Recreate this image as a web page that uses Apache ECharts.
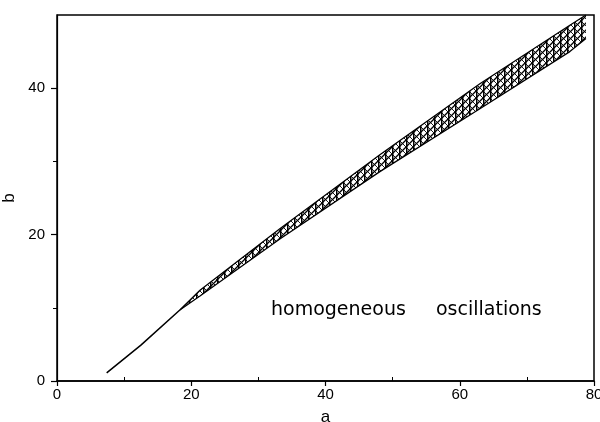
<!DOCTYPE html>
<html>
<head>
<meta charset="utf-8">
<script src="https://cdn.jsdelivr.net/npm/echarts@6/dist/echarts.min.js"></script>
<style>html,body{margin:0;padding:0;background:#fff}#c{width:600px;height:422px}</style>
</head>
<body>
<div id="c"></div>
<script>
// ---- data ----
const aTicks = [0, 20, 40, 60, 80];
const bTicks = [0, 20, 40];
const aMinorTicks = [10, 30, 50, 70];
const bMinorTicks = [10, 30];

// single boundary line below the oscillation band
const aLead = [7.4, 12.5, 18.3];
const bLead = [1.1, 4.9, 9.7];

// oscillation band: upper and lower envelopes
const aBand  = [18.3, 21.3, 33.2, 48.1, 63.0, 76.4, 78.8];
const bUpper = [9.7, 12.4, 20.8, 30.9, 40.6, 48.6, 50.0];
const bLower = [9.7, 11.6, 19.4, 28.6, 37.2, 45.0, 46.8];

const labelWords = ['homogeneous', 'oscillations'];

// ---- chart ----
const zip = (xs, ys) => xs.map((x, i) => [x, ys[i]]);
const FONT = 'Liberation Sans';

// hatch pattern tile (style only)
function makeHatch() {
  const w = 7, h = 7;
  const cv = document.createElement('canvas');
  cv.width = w; cv.height = h;
  const g = cv.getContext('2d');
  g.strokeStyle = '#000';
  g.lineWidth = 1.5;
  g.beginPath();
  g.moveTo(0.75, 0); g.lineTo(0.75, h);        // near vertical bar
  g.stroke();
  g.lineWidth = 1.3;
  g.beginPath();
  g.moveTo(-1, h + 1); g.lineTo(w + 1, -1);    // "/" diagonal
  g.stroke();
  g.lineWidth = 0.9;
  g.beginPath();
  g.moveTo(-1, -1); g.lineTo(w + 1, h + 1);    // "\" diagonal
  g.stroke();
  return cv;
}
const hatch = makeHatch();

const chart = echarts.init(document.getElementById('c'), null, {renderer: 'canvas'});

chart.setOption({
  animation: false,
  backgroundColor: '#fff',
  grid: {left: 57, right: 6, top: 15, bottom: 41, containLabel: false, outerBoundsMode: 'none',
    show: true, borderColor: '#000', borderWidth: 1.5, backgroundColor: 'transparent'},
  xAxis: [{
    type: 'value', min: 0, max: 80, interval: 20,
    name: 'a', nameLocation: 'middle', nameGap: 28,
    nameTextStyle: {fontFamily: FONT, fontSize: 17, color: '#000'},
    axisLine: {show: true, onZero: false, lineStyle: {color: '#000', width: 1.5}},
    axisTick: {show: true, length: 5, lineStyle: {color: '#000', width: 1.2}, customValues: aTicks},
    axisLabel: {fontFamily: FONT, fontSize: 15, color: '#000', margin: 6, customValues: aTicks},
    splitLine: {show: false}
  }, {
    type: 'value', min: 0, max: 80, position: 'bottom',
    axisLine: {show: false}, axisLabel: {show: false}, splitLine: {show: false},
    axisTick: {show: true, inside: true, length: 4, lineStyle: {color: '#000', width: 1}, customValues: aMinorTicks}
  }],
  yAxis: [{
    type: 'value', min: 0, max: 50, interval: 20,
    name: 'b', nameLocation: 'middle', nameGap: 37, nameRotate: 90,
    nameTextStyle: {fontFamily: FONT, fontSize: 17, color: '#000'},
    axisLine: {show: true, onZero: false, lineStyle: {color: '#000', width: 1.2}},
    axisTick: {show: true, length: 6, lineStyle: {color: '#000', width: 1.2}, customValues: bTicks},
    axisLabel: {fontFamily: FONT, fontSize: 15, color: '#000', margin: 12, customValues: bTicks},
    splitLine: {show: false}
  }, {
    type: 'value', min: 0, max: 50, position: 'left',
    axisLine: {show: false}, axisLabel: {show: false}, splitLine: {show: false},
    axisTick: {show: true, length: 4, lineStyle: {color: '#000', width: 1}, customValues: bMinorTicks}
  }],
  graphic: [
    {type: 'text', left: 271, top: 301, silent: true,
      style: {text: labelWords[0], fontFamily: 'DejaVu Sans', fontSize: 19, fill: '#000'}},
    {type: 'text', left: 436, top: 301, silent: true,
      style: {text: labelWords[1], fontFamily: 'DejaVu Sans', fontSize: 19, fill: '#000'}}
  ],
  series: [
    {
      type: 'custom', silent: true,
      data: [0],
      renderItem: function (params, api) {
        const up = aBand.map((a, i) => api.coord([a, bUpper[i]]));
        const lo = aBand.map((a, i) => api.coord([a, bLower[i]])).reverse();
        return {
          type: 'polygon',
          shape: {points: up.concat(lo)},
          style: {fill: {image: hatch, repeat: 'repeat'}, stroke: null}
        };
      }
    },
    {type: 'line', data: zip(aLead, bLead), symbol: 'none', silent: true,
      lineStyle: {color: '#000', width: 1.5}},
    {type: 'line', data: zip(aBand, bUpper), symbol: 'none', silent: true,
      lineStyle: {color: '#000', width: 1.3}},
    {type: 'line', data: zip(aBand, bLower), symbol: 'none', silent: true,
      lineStyle: {color: '#000', width: 1.3}}
  ]
});
</script>
</body>
</html>
